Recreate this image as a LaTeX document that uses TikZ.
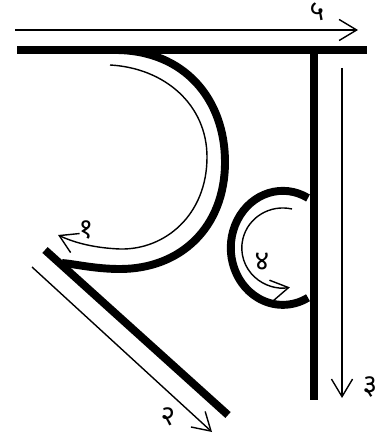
\documentclass[tikz,border=0pt]{standalone}
\usepackage{fontspec}
\newfontfamily\devfont[Script=Devanagari]{Noto Sans}
\usetikzlibrary{arrows.meta}

\tikzset{
  letterstroke/.style={line width=4.5pt, line cap=butt},
  guide/.style={line width=0.8pt,
    -{Straight Barb[length=10pt, width=12pt, line width=0.8pt]}},
  steplabel/.style={font=\devfont\fontsize{16}{16}\selectfont, inner sep=0pt}
}

\begin{document}
\begin{tikzpicture}[x=0.02cm, y=-0.02cm]

  \useasboundingbox (0,0) rectangle (389,438);

  % ============================================================
  %  Letter strokes (thick)
  % ============================================================
  \coordinate (barL)  at (17, 50);
  \coordinate (barR)  at (367, 50);
  \coordinate (stemT) at (314, 50);
  \coordinate (stemB) at (314, 400);
  \coordinate (diagT) at (45, 250);
  \coordinate (diagB) at (228, 415);
  \coordinate (bowlS) at (115, 50);
  \coordinate (bowlE) at (62, 263);
  \coordinate (loopS) at (308, 198);

  % Head bar, stem and diagonal
  \draw[letterstroke] (barL) -- (barR);
  \draw[letterstroke] (stemT) -- (stemB);
  \draw[letterstroke] (diagT) -- (diagB);

  % Big bowl
  \draw[letterstroke] (bowlS)
    .. controls (185, 50) and (225, 100) .. (225, 162)
    .. controls (225, 228) and (180, 269) .. (120, 269)
    .. controls (95, 269) and (75, 264) .. (bowlE);

  % Small loop on the stem
  \draw[letterstroke] (loopS)
    arc[start angle=-61, end angle=-299, x radius=52, y radius=57];

  % ============================================================
  %  Stroke order guides (thin arrows)
  % ============================================================
  \coordinate (g1S) at (110, 65);
  \coordinate (g1E) at (58, 235);
  \coordinate (g2S) at (32, 267);
  \coordinate (g2E) at (212, 432);
  \coordinate (g3S) at (342, 68);
  \coordinate (g3E) at (342, 398);
  \coordinate (g4S) at (292, 209);
  \coordinate (g5S) at (15, 30);
  \coordinate (g5E) at (358, 30);

  % 1 -- round the bowl
  \draw[guide] (g1S)
    .. controls (165, 68) and (207, 105) .. (207, 157)
    .. controls (207, 215) and (165, 250) .. (120, 249)
    .. controls (95, 248) and (75, 243) .. (g1E);
  \node[steplabel] (lblOne) at (86, 230) {१};

  % 2 -- along the diagonal
  \draw[guide] (g2S) -- (g2E);
  \node[steplabel] (lblTwo) at (168, 417) {२};

  % 3 -- down the stem
  \draw[guide] (g3S) -- (g3E);
  \node[steplabel] (lblThree) at (370, 387) {३};

  % 4 -- inside the small loop
  \draw[guide] (g4S)
    arc[start angle=-77, end angle=-280, x radius=41, y radius=40];
  \node[steplabel] (lblFour) at (262, 262) {४};

  % 5 -- head bar
  \draw[guide] (g5S) -- (g5E);
  \node[steplabel] (lblFive) at (317, 12) {५};

\end{tikzpicture}
\end{document}
